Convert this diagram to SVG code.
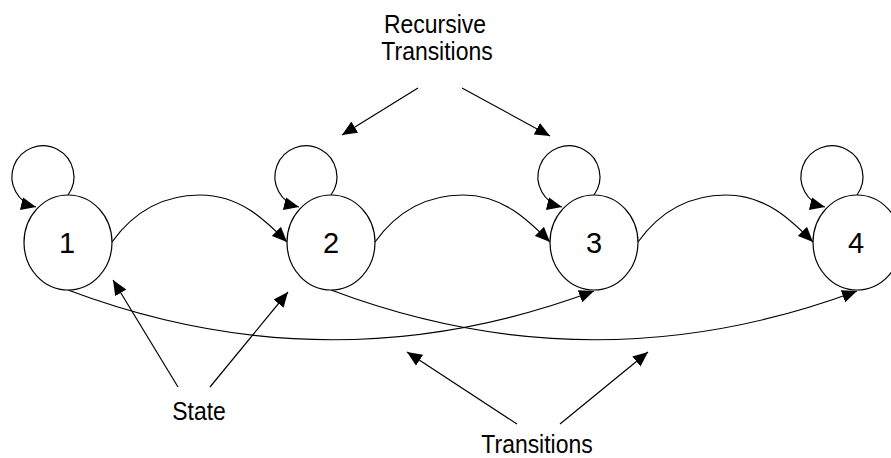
<svg xmlns="http://www.w3.org/2000/svg" width="891" height="458" viewBox="0 0 891 458">
  <style>
    .state { fill: #ffffff; stroke: #000000; stroke-width: 1.2; }
    .edge { fill: none; stroke: #000000; stroke-width: 1.2; marker-end: url(#arrow); }
    .num { font-family: "Liberation Sans", Arial, sans-serif; font-size: 29px; fill: #000000; text-anchor: middle; }
    .label { font-family: "Liberation Sans", Arial, sans-serif; font-size: 25.5px; fill: #000000; text-anchor: middle; }
  </style>
  <defs>
    <marker id="arrow" markerUnits="userSpaceOnUse" markerWidth="15" markerHeight="13" refX="15" refY="6.5" orient="auto">
      <path d="M0,0 L15,6.5 L0,13 z" fill="#000000"/>
    </marker>
  </defs>
  <rect width="891" height="458" fill="#ffffff"/>

  <!-- connectors -->
  <g id="connectors">
    <!-- self loops -->
    <path class="edge" d="M68,195 A31,31 0 1,0 36,207"/>
    <path class="edge" d="M331,195 A31,31 0 1,0 299,207"/>
    <path class="edge" d="M594,195 A31,31 0 1,0 562,207"/>
    <path class="edge" d="M857,195 A31,31 0 1,0 825,207"/>
    <!-- forward transitions to the next state -->
    <path class="edge" d="M112,242 C135,210 165,195 200,195 C240,195 265,220 287,242"/>
    <path class="edge" d="M375,242 C398,210 428,195 463,195 C503,195 528,220 550,242"/>
    <path class="edge" d="M638,242 C661,210 691,195 726,195 C766,195 791,220 813,242"/>
    <!-- skip transitions -->
    <path class="edge" d="M68,290 Q331,389 594,291"/>
    <path class="edge" d="M331,290 Q594,389 857,291"/>
    <!-- annotation pointers -->
    <path class="edge" d="M418,88 L342,135"/>
    <path class="edge" d="M462,88 L550,136"/>
    <path class="edge" d="M178,387 L113,280"/>
    <path class="edge" d="M210,387 L288,292"/>
    <path class="edge" d="M517,424 L407,352"/>
    <path class="edge" d="M560,424 L648,352"/>
  </g>

  <!-- states -->
  <g id="state-1">
    <ellipse class="state" cx="68" cy="242.5" rx="44" ry="47.5"/>
    <text class="num" x="67" y="253">1</text>
  </g>
  <g id="state-2">
    <ellipse class="state" cx="331" cy="242.5" rx="44" ry="47.5"/>
    <text class="num" x="331" y="253">2</text>
  </g>
  <g id="state-3">
    <ellipse class="state" cx="594" cy="242.5" rx="44" ry="47.5"/>
    <text class="num" x="594" y="253">3</text>
  </g>
  <g id="state-4">
    <ellipse class="state" cx="857" cy="242.5" rx="44" ry="47.5"/>
    <text class="num" x="856" y="253">4</text>
  </g>

  <!-- annotations -->
  <g id="labels">
    <text class="label" transform="translate(435,33) scale(0.9,1)">Recursive</text>
    <text class="label" transform="translate(437,60) scale(0.9,1)">Transitions</text>
    <text class="label" transform="translate(199,420) scale(0.9,1)">State</text>
    <text class="label" transform="translate(537,453) scale(0.9,1)">Transitions</text>
  </g>
</svg>
